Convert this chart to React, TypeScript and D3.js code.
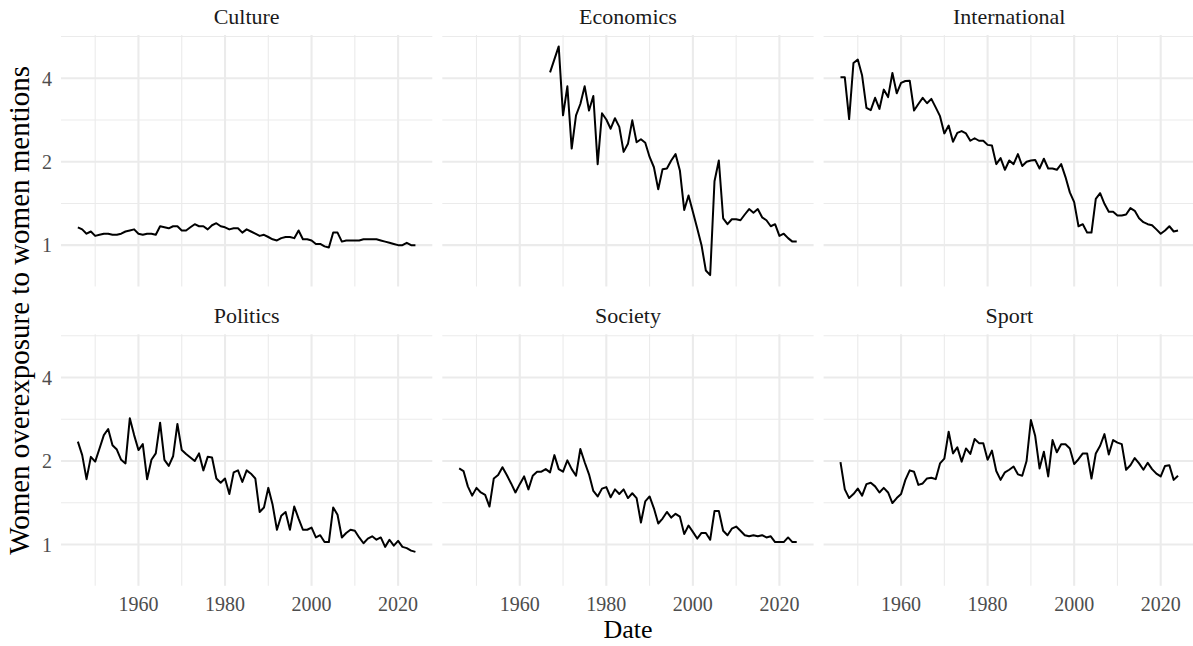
import React from "react";
import * as d3 from "d3";

const years = [
  1946, 1947, 1948, 1949, 1950, 1951, 1952, 1953, 1954, 1955,
  1956, 1957, 1958, 1959, 1960, 1961, 1962, 1963, 1964, 1965,
  1966, 1967, 1968, 1969, 1970, 1971, 1972, 1973, 1974, 1975,
  1976, 1977, 1978, 1979, 1980, 1981, 1982, 1983, 1984, 1985,
  1986, 1987, 1988, 1989, 1990, 1991, 1992, 1993, 1994, 1995,
  1996, 1997, 1998, 1999, 2000, 2001, 2002, 2003, 2004, 2005,
  2006, 2007, 2008, 2009, 2010, 2011, 2012, 2013, 2014, 2015,
  2016, 2017, 2018, 2019, 2020, 2021, 2022, 2023, 2024,
];

const categories = ["Culture", "Economics", "International", "Politics", "Society", "Sport"];

const culture = [
  1.16, 1.14, 1.10, 1.12, 1.08, 1.09, 1.10, 1.10, 1.09, 1.09,
  1.10, 1.12, 1.13, 1.14, 1.10, 1.09, 1.10, 1.10, 1.09, 1.17,
  1.16, 1.15, 1.17, 1.17, 1.13, 1.13, 1.16, 1.19, 1.17, 1.17,
  1.14, 1.18, 1.20, 1.17, 1.16, 1.14, 1.15, 1.15, 1.11, 1.14,
  1.12, 1.10, 1.08, 1.09, 1.07, 1.05, 1.04, 1.06, 1.07, 1.07,
  1.06, 1.13, 1.05, 1.05, 1.04, 1.01, 1.01, 0.99, 0.98, 1.11,
  1.11, 1.03, 1.04, 1.04, 1.04, 1.04, 1.05, 1.05, 1.05, 1.05,
  1.04, 1.03, 1.02, 1.01, 1.00, 1.00, 1.02, 1.00, 1.00,
];

// Economics starts in 1967
const economicsStart = 1967;
const economics = [
  4.20, 4.68, 5.21, 2.94, 3.74, 2.23, 2.94, 3.23, 3.74, 3.06,
  3.45, 1.96, 2.99, 2.84, 2.63, 2.87, 2.67, 2.17, 2.32, 2.82,
  2.35, 2.41, 2.34, 2.08, 1.91, 1.59, 1.88, 1.89, 2.02, 2.13,
  1.86, 1.34, 1.51, 1.32, 1.15, 1.00, 0.81, 0.78, 1.70, 2.02,
  1.25, 1.19, 1.24, 1.24, 1.23, 1.29, 1.35, 1.31, 1.35, 1.26,
  1.23, 1.17, 1.19, 1.08, 1.10, 1.06, 1.03, 1.03,
];

const international = [
  4.03, 4.03, 2.85, 4.54, 4.67, 4.09, 3.13, 3.07, 3.40, 3.10,
  3.64, 3.42, 4.18, 3.53, 3.85, 3.91, 3.92, 3.06, 3.23, 3.40,
  3.25, 3.37, 3.14, 2.92, 2.53, 2.70, 2.36, 2.54, 2.58, 2.53,
  2.38, 2.43, 2.38, 2.38, 2.30, 2.29, 1.96, 2.06, 1.87, 2.02,
  1.96, 2.13, 1.93, 2.00, 2.02, 2.03, 1.89, 2.05, 1.89, 1.89,
  1.87, 1.96, 1.76, 1.55, 1.43, 1.17, 1.19, 1.11, 1.11, 1.47,
  1.54, 1.41, 1.32, 1.32, 1.28, 1.28, 1.29, 1.36, 1.33, 1.25,
  1.21, 1.19, 1.18, 1.14, 1.10, 1.13, 1.17, 1.12, 1.13,
];

const politics = [
  2.35, 2.10, 1.72, 2.07, 1.99, 2.22, 2.48, 2.61, 2.28, 2.20,
  2.02, 1.96, 2.85, 2.48, 2.19, 2.30, 1.72, 2.02, 2.13, 2.75,
  2.02, 1.92, 2.08, 2.72, 2.19, 2.12, 2.06, 2.00, 2.13, 1.85,
  2.07, 2.06, 1.73, 1.67, 1.73, 1.52, 1.82, 1.85, 1.68, 1.85,
  1.80, 1.73, 1.31, 1.36, 1.60, 1.39, 1.13, 1.27, 1.31, 1.13,
  1.37, 1.24, 1.13, 1.13, 1.15, 1.06, 1.08, 1.02, 1.02, 1.36,
  1.28, 1.06, 1.10, 1.13, 1.12, 1.06, 1.01, 1.05, 1.07, 1.04,
  1.06, 0.98, 1.04, 0.99, 1.03, 0.98, 0.97, 0.95, 0.94,
];

const society = [
  1.88, 1.84, 1.62, 1.50, 1.60, 1.54, 1.51, 1.37, 1.73, 1.78,
  1.90, 1.78, 1.66, 1.54, 1.65, 1.76, 1.58, 1.77, 1.83, 1.83,
  1.87, 1.82, 2.10, 1.87, 1.83, 2.01, 1.87, 1.77, 2.21, 1.98,
  1.79, 1.56, 1.49, 1.59, 1.61, 1.48, 1.58, 1.52, 1.58, 1.47,
  1.53, 1.47, 1.20, 1.43, 1.49, 1.35, 1.19, 1.24, 1.31, 1.25,
  1.29, 1.26, 1.09, 1.17, 1.11, 1.05, 1.10, 1.10, 1.04, 1.32,
  1.32, 1.12, 1.08, 1.14, 1.16, 1.12, 1.08, 1.07, 1.08, 1.07,
  1.08, 1.06, 1.07, 1.02, 1.02, 1.02, 1.06, 1.02, 1.02,
];

const sport = [
  1.98, 1.58, 1.47, 1.52, 1.59, 1.50, 1.65, 1.67, 1.62, 1.54,
  1.60, 1.54, 1.41, 1.47, 1.52, 1.71, 1.85, 1.83, 1.64, 1.66,
  1.73, 1.74, 1.72, 1.96, 2.04, 2.55, 2.13, 2.24, 1.99, 2.22,
  2.12, 2.40, 2.32, 2.32, 2.02, 2.18, 1.84, 1.71, 1.82, 1.86,
  1.91, 1.79, 1.77, 2.00, 2.81, 2.46, 1.88, 2.16, 1.76, 2.38,
  2.15, 2.30, 2.30, 2.22, 1.95, 2.03, 2.13, 2.13, 1.73, 2.13,
  2.27, 2.50, 2.11, 2.38, 2.33, 2.30, 1.86, 1.93, 2.05, 1.96,
  1.86, 1.97, 1.87, 1.80, 1.76, 1.92, 1.93, 1.71, 1.77,
];

const xMajorTicks = [1960, 1980, 2000, 2020];
const xMinorTicks = [1950, 1970, 1990, 2010];
const yMajorTicks = [1, 2, 4];
const yMinorTicks = [0.7071, 1.4142, 2.8284, 5.6569];

const xTitle = "Date";
const yTitle = "Women overexposure to women mentions";

type Pt = { year: number; value: number };

function buildSeries(): Pt[][] {
  const econYears = years.filter((y) => y >= economicsStart);
  const pairs = (ys: number[], vs: number[]) => vs.map((v, i) => ({ year: ys[i], value: v }));
  return [
    pairs(years, culture),
    pairs(econYears, economics),
    pairs(years, international),
    pairs(years, politics),
    pairs(years, society),
    pairs(years, sport),
  ];
}

const WIDTH = 1193;
const HEIGHT = 646;
const LEFT = 61;
const TOP = 35;
const PANEL_W = 371.3;
const PANEL_H = 251.5;
const COL_GAP = 10;
const ROW_PITCH = 299.3;
const FONT = "'Liberation Serif', 'Times New Roman', serif";

export default function App() {
  const series = buildSeries();
  const all = series.flat();

  const [x0, x1] = d3.extent(all, (d) => d.year) as [number, number];
  const xr = x1 - x0;
  const x = d3.scaleLinear().domain([x0 - 0.05 * xr, x1 + 0.05 * xr]).range([0, PANEL_W]);

  const [v0, v1] = d3.extent(all, (d) => d.value) as [number, number];
  const l0 = Math.log2(v0);
  const l1 = Math.log2(v1);
  const lr = l1 - l0;
  const y = d3
    .scaleLog()
    .base(2)
    .domain([Math.pow(2, l0 - 0.05 * lr), Math.pow(2, l1 + 0.05 * lr)])
    .range([PANEL_H, 0]);
  const [yd0, yd1] = y.domain();
  const minorY = yMinorTicks.filter((t) => t >= yd0 && t <= yd1);
  const [xd0, xd1] = x.domain();
  const minorX = xMinorTicks.filter((t) => t >= xd0 && t <= xd1);

  const line = d3
    .line<Pt>()
    .x((d) => x(d.year))
    .y((d) => y(d.value));

  const grid = "#EBEBEB";

  return (
    <svg
      width={WIDTH}
      height={HEIGHT}
      style={{ position: "absolute", left: 0, top: 0, background: "#fff" }}
      fontFamily={FONT}
    >
      <rect width={WIDTH} height={HEIGHT} fill="#fff" />
      {categories.map((cat, i) => {
        const col = i % 3;
        const row = Math.floor(i / 3);
        const px = LEFT + col * (PANEL_W + COL_GAP);
        const py = TOP + row * ROW_PITCH;
        return (
          <g key={cat} transform={`translate(${px},${py})`}>
            {minorY.map((t) => (
              <line key={`my${t}`} x1={0} x2={PANEL_W} y1={y(t)} y2={y(t)} stroke={grid} strokeWidth={1.1} />
            ))}
            {minorX.map((t) => (
              <line key={`mx${t}`} x1={x(t)} x2={x(t)} y1={0} y2={PANEL_H} stroke={grid} strokeWidth={1.1} />
            ))}
            {yMajorTicks.map((t) => (
              <line key={`Y${t}`} x1={0} x2={PANEL_W} y1={y(t)} y2={y(t)} stroke={grid} strokeWidth={2.1} />
            ))}
            {xMajorTicks.map((t) => (
              <line key={`X${t}`} x1={x(t)} x2={x(t)} y1={0} y2={PANEL_H} stroke={grid} strokeWidth={2.1} />
            ))}
            <path d={line(series[i]) || ""} fill="none" stroke="#000" strokeWidth={2} strokeLinejoin="round" />
            <text x={PANEL_W / 2} y={-11} textAnchor="middle" fontSize={22} fill="#1A1A1A">
              {cat}
            </text>
            {col === 0 &&
              yMajorTicks.map((t) => (
                <text key={`yl${t}`} x={-9} y={y(t) + 7.3} textAnchor="end" fontSize={20} fill="#4D4D4D">
                  {t}
                </text>
              ))}
            {row === 1 &&
              xMajorTicks.map((t) => (
                <text key={`xl${t}`} x={x(t)} y={PANEL_H + 25} textAnchor="middle" fontSize={20} fill="#4D4D4D">
                  {t}
                </text>
              ))}
          </g>
        );
      })}
      <text x={LEFT + (3 * PANEL_W + 2 * COL_GAP) / 2} y={638.3} textAnchor="middle" fontSize={26} fill="#000">
        {xTitle}
      </text>
      <text
        transform={`translate(29,${TOP + (ROW_PITCH + PANEL_H) / 2}) rotate(-90)`}
        textAnchor="middle"
        fontSize={29}
        fill="#000"
      >
        {yTitle}
      </text>
    </svg>
  );
}
